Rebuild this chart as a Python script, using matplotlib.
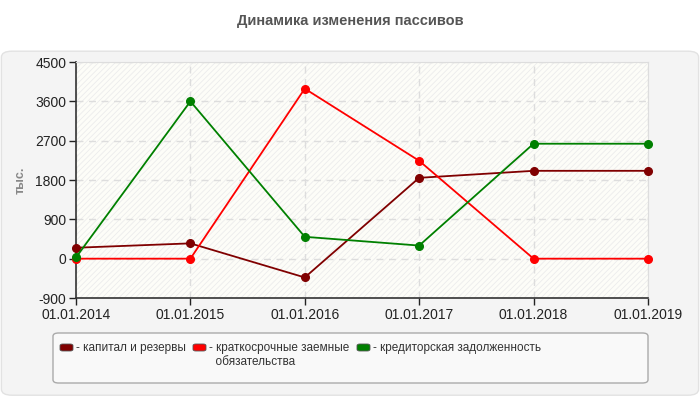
import matplotlib
matplotlib.use("Agg")
import matplotlib.pyplot as plt
from matplotlib.patches import FancyBboxPatch, Rectangle

plt.rcParams['font.family'] = ['Liberation Sans', 'DejaVu Sans']
plt.rcParams['hatch.linewidth'] = 0.6
plt.rcParams['axes.unicode_minus'] = False

dates = ['01.01.2014', '01.01.2015', '01.01.2016', '01.01.2017', '01.01.2018', '01.01.2019']
kapital = [250, 350, -430, 1850, 2010, 2010]
kratko = [0, 0, 3890, 2240, 0, 0]
kredit = [30, 3600, 500, 300, 2630, 2630]

series_names = ['- капитал и резервы', '- краткосрочные заемные\n  обязательства', '- кредиторская задолженность']
colors = ['#800000', '#ff0000', '#008000']
yticks = [-900, 0, 900, 1800, 2700, 3600, 4500]

fig = plt.figure(figsize=(7, 4), dpi=100)
fig.patch.set_facecolor('white')

# серая подложка
panel = FancyBboxPatch((0.002, 0.012), 0.996, 0.86, boxstyle="round,pad=0,rounding_size=0.015",
                       transform=fig.transFigure, facecolor='#f4f4f4', edgecolor='#e2e2e2', lw=1,
                       zorder=-10)
fig.patches.append(panel)

fig.text(0.5, 0.948, 'Динамика изменения пассивов', ha='center', va='center',
         fontsize=10.5, fontweight='bold', color='#555555')

ax = fig.add_axes([0.1086, 0.255, 0.817, 0.59])
ax.set_facecolor('#fdfdf8')
ax.add_patch(Rectangle((0, 0), 1, 1, transform=ax.transAxes, facecolor='none',
                       edgecolor='#ececec', hatch='//////', lw=0, zorder=0))

x = list(range(len(dates)))
for vals, c in zip([kapital, kratko, kredit], colors):
    ax.plot(x, vals, color=c, lw=1.3, marker='o', markersize=5.5, zorder=3, clip_on=False)

ax.set_xlim(0, len(dates) - 1)
ax.set_ylim(-900, 4500)
ax.set_xticks(x)
ax.set_xticklabels(dates)
ax.set_yticks(yticks)
ax.tick_params(axis='both', labelsize=10, colors='#222222', length=5, width=1, pad=2)
ax.grid(True, color='#dddddd', linestyle=(0, (5, 4)), lw=1)
for side in ['top', 'right']:
    ax.spines[side].set_color('#dddddd')
for side in ['left', 'bottom']:
    ax.spines[side].set_color('#333333')
    ax.spines[side].set_linewidth(1.2)
ax.set_ylabel('тыс.', fontsize=9, fontweight='bold', color='#888888', labelpad=6)

# легенда
lbox = FancyBboxPatch((53 / 700, 1 - 383 / 400), 595 / 700, 50 / 400,
                      boxstyle="round,pad=0,rounding_size=0.008", transform=fig.transFigure,
                      facecolor='#f9f9f9', edgecolor='#aaaaaa', lw=1)
fig.patches.append(lbox)
hx = [60, 193, 357]
for h, name, c in zip(hx, series_names, colors):
    fig.patches.append(FancyBboxPatch((h / 700, 1 - 351 / 400), 13 / 700, 7 / 400,
                                      boxstyle="round,pad=0,rounding_size=0.004",
                                      transform=fig.transFigure, facecolor=c,
                                      edgecolor='#555555', lw=0.6))
    fig.text((h + 16) / 700, 1 - 342 / 400, name, ha='left', va='top', fontsize=8.5,
             color='#333333', linespacing=1.25)

fig.savefig('out.png', dpi=100)
